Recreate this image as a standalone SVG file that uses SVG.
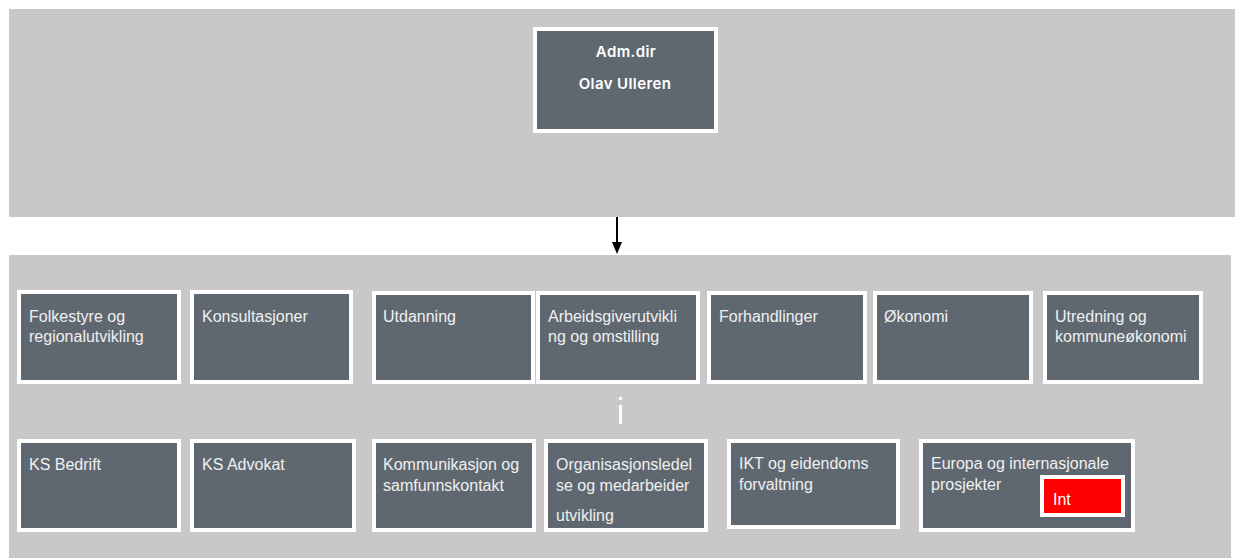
<svg xmlns="http://www.w3.org/2000/svg" width="1237" height="558" viewBox="0 0 1237 558">
  <defs>
    <style>
      .panel { fill: #c8c8c8; }
      .box { fill: #5f6870; stroke: #ffffff; stroke-width: 4; }
      .lbl { font-family: "Liberation Sans", Arial, sans-serif; font-size: 16px; fill: #f0f0f0; }
      .head { font-family: Inter, "Liberation Sans", Arial, sans-serif; font-size: 15px; font-weight: 600; fill: #ffffff; letter-spacing: 0.4px; text-anchor: middle; }
      .edge { stroke: #000000; stroke-width: 2; fill: none; }
    </style>
  </defs>

  <rect width="1237" height="558" fill="#ffffff"/>

  <!-- background bands -->
  <rect class="panel" x="9" y="9" width="1226" height="208"/>
  <rect class="panel" x="9" y="255" width="1222" height="303"/>

  <!-- connectors -->
  <g id="connectors">
    <line class="edge" x1="617" y1="217" x2="617" y2="242"/>
    <path d="M612,242 L622,242 L617,254 Z" fill="#000000"/>
    <rect x="619" y="397" width="3" height="3" fill="#ffffff"/>
    <rect x="619" y="405" width="3" height="19" fill="#ffffff"/>
  </g>

  <!-- top -->
  <g id="adm-dir">
    <rect class="box" x="535" y="29" width="181" height="102"/>
    <text class="head" x="626" y="57">Adm.dir</text>
    <text class="head" x="625" y="89">Olav Ulleren</text>
  </g>

  <!-- first row -->
  <g id="folkestyre">
    <rect class="box" x="19" y="292" width="160" height="90"/>
    <text class="lbl" x="29" y="322">Folkestyre og</text>
    <text class="lbl" x="29" y="342">regionalutvikling</text>
  </g>
  <g id="konsultasjoner">
    <rect class="box" x="192" y="292" width="159" height="90"/>
    <text class="lbl" x="202" y="322">Konsultasjoner</text>
  </g>
  <g id="utdanning">
    <rect class="box" x="374" y="293" width="159" height="89"/>
    <text class="lbl" x="383" y="322">Utdanning</text>
  </g>
  <g id="arbeidsgiverutvikling">
    <rect class="box" x="538" y="293" width="160" height="89"/>
    <text class="lbl" x="548" y="322">Arbeidsgiverutvikli</text>
    <text class="lbl" x="548" y="342">ng og omstilling</text>
  </g>
  <g id="forhandlinger">
    <rect class="box" x="709" y="293" width="156" height="89"/>
    <text class="lbl" x="719" y="322">Forhandlinger</text>
  </g>
  <g id="okonomi">
    <rect class="box" x="875" y="293" width="156" height="89"/>
    <text class="lbl" x="884" y="322">Økonomi</text>
  </g>
  <g id="utredning">
    <rect class="box" x="1045" y="293" width="156" height="89"/>
    <text class="lbl" x="1055" y="322">Utredning og</text>
    <text class="lbl" x="1055" y="342">kommuneøkonomi</text>
  </g>

  <!-- second row -->
  <g id="ks-bedrift">
    <rect class="box" x="19" y="441" width="160" height="89"/>
    <text class="lbl" x="29" y="470">KS Bedrift</text>
  </g>
  <g id="ks-advokat">
    <rect class="box" x="192" y="441" width="162" height="89"/>
    <text class="lbl" x="202" y="470">KS Advokat</text>
  </g>
  <g id="kommunikasjon">
    <rect class="box" x="374" y="441" width="160" height="89"/>
    <text class="lbl" x="383" y="470">Kommunikasjon og</text>
    <text class="lbl" x="383" y="491">samfunnskontakt</text>
  </g>
  <g id="organisasjonsledelse">
    <rect class="box" x="546" y="441" width="160" height="89"/>
    <text class="lbl" x="556" y="470">Organisasjonsledel</text>
    <text class="lbl" x="556" y="491">se og medarbeider</text>
    <text class="lbl" x="556" y="521">utvikling</text>
  </g>
  <g id="ikt">
    <rect class="box" x="729" y="441" width="169" height="86"/>
    <text class="lbl" x="739" y="469">IKT og eidendoms</text>
    <text class="lbl" x="739" y="490">forvaltning</text>
  </g>
  <g id="europa">
    <rect class="box" x="921" y="441" width="212" height="89"/>
    <text class="lbl" x="931" y="469">Europa og internasjonale</text>
    <text class="lbl" x="931" y="490">prosjekter</text>
    <rect x="1042" y="477" width="81" height="38" fill="#ff0000" stroke="#ffffff" stroke-width="4"/>
    <text class="lbl" x="1053" y="505" style="fill:#ffffff">Int</text>
  </g>
</svg>
